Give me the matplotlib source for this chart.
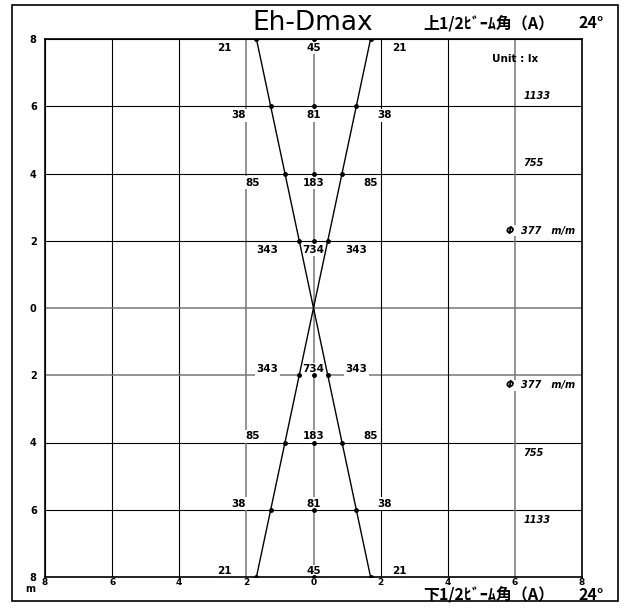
import numpy as np
import matplotlib.pyplot as plt
from matplotlib.patches import Rectangle

plt.rcParams['font.family'] = ['DejaVu Sans', 'Noto Sans CJK JP']

# distances (m) above / below and illuminance (lx)
DIST = [2, 4, 6, 8]
SIDE_LX = [343, 85, 38, 21]
CENTER_LX = [734, 183, 81, 45]
BEAM_DIAM = ["\u03a6  377   m/m", "755", "1133"]
BEAM_ANGLE = 24
TICKS = [-8, -6, -4, -2, 0, 2, 4, 6, 8]
TICK_LABELS = ["8", "6", "4", "2", "0", "2", "4", "6", "8"]

half = np.tan(np.radians(BEAM_ANGLE / 2))
lab = dict(fontsize=7.5, fontweight="bold", ha="center",
           bbox=dict(facecolor="white", edgecolor="none", pad=1.0))

fig = plt.figure(figsize=(6.3, 6.1), dpi=100)
fig.patches.append(Rectangle((12 / 630, 9 / 610), 606 / 630, 596 / 610,
                             transform=fig.transFigure, fill=False,
                             edgecolor="black", linewidth=1.2))

ax = fig.add_axes([45 / 630, 1 - 577 / 610, 537 / 630, 538 / 610])
ax.set_xlim(-8, 8)
ax.set_ylim(-8, 8)

gray = "#777777"
for t in TICKS:
    c = gray if t in (-2, 0, 6) else "black"
    ax.axvline(t, color=c, lw=1.1 if c == gray else 0.8, zorder=1)
    c = gray if t in (0, -2) else "black"
    ax.axhline(t, color=c, lw=1.1 if c == gray else 0.8, zorder=1)

for sgn in (1, -1):
    ax.plot([-half * 8, 0, half * 8], [8 * sgn, 0, 8 * sgn], color="black",
            lw=1, zorder=3)
    for d, s, c in zip(DIST, SIDE_LX, CENTER_LX):
        y = d * sgn
        r = d * half
        ax.plot([-r, 0, r], [y, y, y], "o", color="black", ms=2.5, zorder=4)
        ty = y - 0.12 if sgn > 0 else y + 0.03
        va = "top" if sgn > 0 else "bottom"
        ax.text(0, ty, str(c), va=va, zorder=2, **lab)
        ax.text(-r - 0.95, ty, str(s), va=va, zorder=2, **lab)
        ax.text(r + 0.85, ty, str(s), va=va, zorder=2, **lab)
    for d, txt in zip([2, 4, 6], BEAM_DIAM):
        y = d * sgn
        ty = y + 0.15 if sgn > 0 else y - 0.15
        va = "bottom" if sgn > 0 else "top"
        if txt.startswith("\u03a6"):
            ax.text(5.75, ty, txt, fontsize=7, fontweight="bold",
                    style="italic", va=va, ha="left", zorder=2,
                    bbox=dict(facecolor="white", edgecolor="none", pad=0.3))
        else:
            ax.text(6.25, ty, txt, fontsize=7, fontweight="bold",
                    style="italic", va=va, ha="left", zorder=2)

ax.set_xticks(TICKS)
ax.set_xticklabels(TICK_LABELS, fontsize=6.5, fontweight="bold")
ax.set_yticks(TICKS)
ax.set_yticklabels(TICK_LABELS, fontsize=7, fontweight="bold")
ax.tick_params(length=0, pad=1)
ax.tick_params(axis="y", pad=6)
for sp in ax.spines.values():
    sp.set_linewidth(1.2)

ax.text(6.0, 7.4, "Unit : lx", fontsize=7.5, fontweight="bold", ha="center",
        va="center")
fig.text(30 / 630, 1 - 589 / 610, "m", fontsize=7, fontweight="bold",
         ha="center", va="center")
fig.text(313 / 630, 1 - 23 / 610, "Eh-Dmax", fontsize=19, fontweight="medium",
         ha="center", va="center")
jp = ['Noto Sans CJK JP', 'DejaVu Sans']
fig.text(489 / 630, 1 - 23 / 610, "上1/2ﾋﾞｰﾑ角（A）", family=jp, fontsize=11.5,
         fontweight="bold", ha="center", va="center")
fig.text(591 / 630, 1 - 23 / 610, f"{BEAM_ANGLE}°", family=jp, fontsize=11.5,
         fontweight="bold", ha="center", va="center")
fig.text(489 / 630, 1 - 595 / 610, "下1/2ﾋﾞｰﾑ角（A）", family=jp, fontsize=11.5,
         fontweight="bold", ha="center", va="center")
fig.text(591 / 630, 1 - 595 / 610, f"{BEAM_ANGLE}°", family=jp, fontsize=11.5,
         fontweight="bold", ha="center", va="center")

fig.savefig("out.png", dpi=100)
